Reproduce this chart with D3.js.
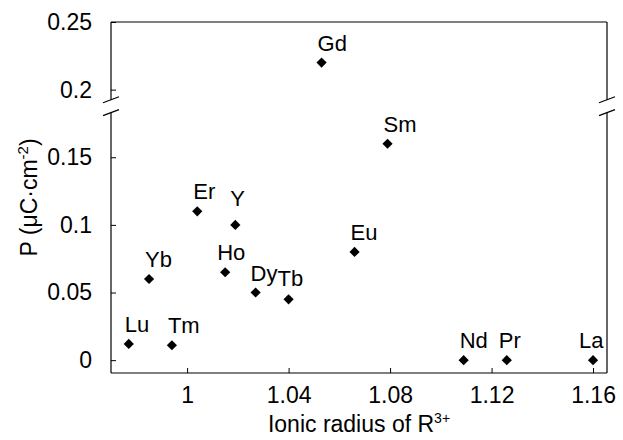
<!DOCTYPE html>
<html>
<head>
<meta charset="utf-8">
<script src="https://cdn.jsdelivr.net/npm/d3@7"></script>
<style>
  body { margin: 0; background: #fff; }
  text { font-family: "Liberation Sans", Arial, sans-serif; fill: #000; }
</style>
</head>
<body>
<div id="chart"></div>
<script>
// Data
const elements = ["Lu", "Yb", "Tm", "Er", "Ho", "Y", "Dy", "Tb", "Gd", "Eu", "Sm", "Nd", "Pr", "La"];
const radius = [0.977, 0.985, 0.994, 1.004, 1.015, 1.019, 1.027, 1.040, 1.053, 1.066, 1.079, 1.109, 1.126, 1.160];
const polarization = [0.012, 0.060, 0.011, 0.110, 0.065, 0.100, 0.050, 0.045, 0.220, 0.080, 0.160, 0, 0, 0];
const xTicks = [1, 1.04, 1.08, 1.12, 1.16];
const yTicks = [0, 0.05, 0.1, 0.15, 0.2, 0.25];
const yBreak = [0.183, 0.1925];

// Set the dimensions of the chart
const width = 623;
const height = 440;
const margin = { top: 22, right: 16, bottom: 67, left: 111 };

// label offsets relative to the marker (most labels sit just above, left aligned)
const labelShift = { Y: [-5, -19], Ho: [-8, -12], Dy: [-5, -12], Tb: [-11, -13], Pr: [-8, -12], La: [-14, -12] };

const data = elements.map((name, i) => ({ name: name, r: radius[i], p: polarization[i] }));

const xScale = d3.scaleLinear()
  .domain([0.97, 1.1655])
  .range([margin.left, width - margin.right]);

const yScale = d3.scaleLinear()
  .domain([-0.0095, 0.25])
  .range([height - margin.bottom, margin.top]);

const svg = d3.select("#chart")
  .append("svg")
  .attr("width", width)
  .attr("height", height);

const x0 = margin.left, x1 = width - margin.right;
const y0 = height - margin.bottom, y1 = margin.top;

// x-axis with inward ticks
svg.append("g")
  .attr("transform", `translate(0, ${y0})`)
  .call(d3.axisBottom(xScale).tickValues(xTicks).tickSizeInner(-5).tickSizeOuter(0).tickPadding(10).tickFormat(d3.format("")))
  .call(g => g.select(".domain").remove())
  .call(g => g.selectAll("text").attr("font-size", 23).attr("dy", "0.85em"));

// y-axis with inward ticks
svg.append("g")
  .attr("transform", `translate(${x0}, 0)`)
  .call(d3.axisLeft(yScale).tickValues(yTicks).tickSizeInner(-5).tickSizeOuter(0).tickPadding(19).tickFormat(d3.format("")))
  .call(g => g.select(".domain").remove())
  .call(g => g.selectAll("text").attr("font-size", 23));

// frame (left and right sides are broken)
const frame = svg.append("g").attr("stroke", "#000").attr("stroke-width", 1.2).attr("fill", "none");
frame.append("line").attr("x1", x0).attr("x2", x1).attr("y1", y0).attr("y2", y0);
frame.append("line").attr("x1", x0).attr("x2", x1).attr("y1", y1).attr("y2", y1);
[x0, x1].forEach(x => {
  frame.append("line").attr("x1", x).attr("x2", x).attr("y1", y1).attr("y2", yScale(yBreak[1]));
  frame.append("line").attr("x1", x).attr("x2", x).attr("y1", yScale(yBreak[0])).attr("y2", y0);
  yBreak.forEach(v => {
    frame.append("line")
      .attr("x1", x - 8).attr("y1", yScale(v) + 3)
      .attr("x2", x + 8).attr("y2", yScale(v) - 3);
  });
});

// markers
svg.append("g")
  .selectAll("path")
  .data(data)
  .enter()
  .append("path")
  .attr("d", d3.symbol(d3.symbolSquare, 52))
  .attr("transform", d => `translate(${xScale(d.r)}, ${yScale(d.p)}) rotate(45)`)
  .attr("fill", "#000");

// element labels
svg.append("g")
  .selectAll("text")
  .data(data)
  .enter()
  .append("text")
  .attr("x", d => xScale(d.r) + (labelShift[d.name] ? labelShift[d.name][0] : -4))
  .attr("y", d => yScale(d.p) + (labelShift[d.name] ? labelShift[d.name][1] : -12))
  .attr("font-size", 22)
  .text(d => d.name);

// axis titles
const xt = svg.append("text")
  .attr("x", (x0 + x1) / 2)
  .attr("y", 432)
  .attr("text-anchor", "middle")
  .attr("font-size", 23);
xt.append("tspan").text("Ionic radius of R");
xt.append("tspan").attr("font-size", 14).attr("dy", -9).text("3+");

const yt = svg.append("text")
  .attr("transform", `translate(37, ${(y0 + y1) / 2}) rotate(-90)`)
  .attr("text-anchor", "middle")
  .attr("font-size", 23);
yt.append("tspan").text("P (\u03bcC\u00b7cm");
yt.append("tspan").attr("font-size", 15).attr("dy", -9).text("-2");
yt.append("tspan").attr("dy", 9).text(")");
</script>
</body>
</html>
